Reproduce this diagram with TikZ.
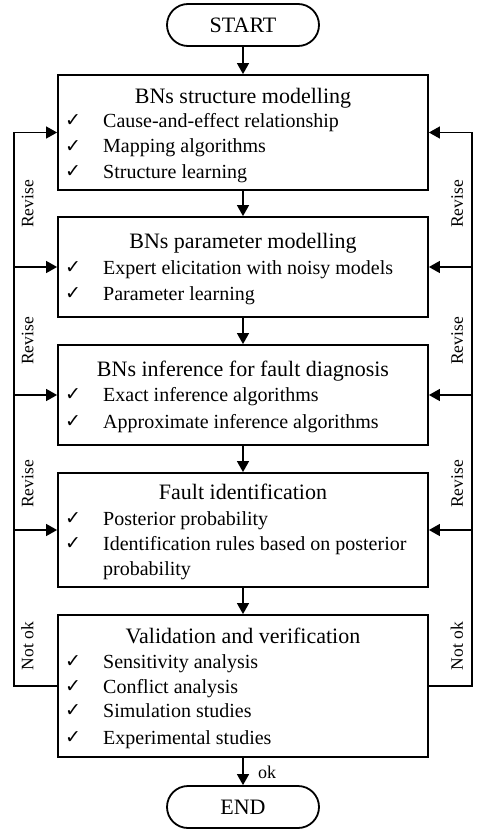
\documentclass[tikz,border=0pt]{standalone}
\usepackage{fontspec}
\setmainfont{Liberation Serif}
\newfontfamily\symfont{DejaVu Sans}
\usetikzlibrary{arrows.meta}

\tikzset{
  box/.style={draw, line width=1.8pt, minimum width=370pt, inner sep=0pt},
  term/.style={draw, line width=1.8pt, rounded corners=21pt, minimum width=152pt,
    minimum height=42pt, inner sep=0pt, font=\fontsize{22}{26}\selectfont},
  head/.style={inner sep=0pt, text height=14.5pt, text depth=0pt, font=\fontsize{22}{26}\selectfont},
  item/.style={anchor=west, inner sep=0pt, text height=13pt, text depth=0pt, font=\fontsize{20}{24}\selectfont},
  tick/.style={inner sep=0pt, font=\symfont\fontsize{19}{22}\selectfont},
  lab/.style={inner sep=0pt, rotate=90, text height=11.5pt, text depth=0pt, font=\fontsize{17.5}{21}\selectfont},
  arr/.style={line width=1.3pt, -{Triangle[length=11pt,width=12pt]}},
  ln/.style={line width=1.3pt}
}

\begin{document}
\begin{tikzpicture}[x=1pt, y=-1pt]
\def\Item#1#2#3{
\node[tick] (k#1) at (73,#2) {✓};
\node[item] (i#1) at (103,#2) {#3};
}
\useasboundingbox (0,0) rectangle (486,832);

% terminals
\node[term] (start) at (243,25) {START};
\node[term] (end) at (243,807) {END};

% stages
\node[box, minimum height=115pt] (s1) at (243,132.5) {};
\node[box, minimum height=100pt] (s2) at (243,267) {};
\node[box, minimum height=100pt] (s3) at (243,395) {};
\node[box, minimum height=114pt] (s4) at (243,530) {};
\node[box, minimum height=142pt] (s5) at (243,686) {};

\node[head] (h1) at (243,96) {BNs structure modelling};
\Item{11}{121}{Cause-and-effect relationship}
\Item{12}{146.5}{Mapping algorithms}
\Item{13}{172}{Structure learning}

\node[head] (h2) at (243,241.5) {BNs parameter modelling};
\Item{21}{268}{Expert elicitation with noisy models}
\Item{22}{293.5}{Parameter learning}

\node[head] (h3) at (243,369.5) {BNs inference for fault diagnosis};
\Item{31}{395}{Exact inference algorithms}
\Item{32}{421.5}{Approximate inference algorithms}

\node[head] (h4) at (243,492.5) {Fault identification};
\Item{41}{518.5}{Posterior probability}
\Item{42}{543.5}{Identification rules based on posterior}
\node[item] (i43) at (103,568.5) {probability};

\node[head] (h5) at (243,636.5) {Validation and verification};
\Item{51}{661.5}{Sensitivity analysis}
\Item{52}{686.5}{Conflict analysis}
\Item{53}{711}{Simulation studies}
\Item{54}{738}{Experimental studies}

% main flow
\draw[arr] (start.south) -- (s1.north);
\foreach \a/\b in {1/2,2/3,3/4,4/5}
  \draw[arr] (s\a.south) -- (s\b.north);
\draw[arr] (s5.south) -- (end.north);
\node[item, text height=12pt, font=\fontsize{18}{22}\selectfont] (ok) at (258,772) {ok};

% feedback loops
\coordinate (L) at (14,0);
\coordinate (R) at (472,0);
\draw[ln] (s5.west) -- (s5.west -| L) -- (s1.west -| L);
\draw[ln] (s5.east) -- (s5.east -| R) -- (s1.east -| R);
\foreach \n in {1,...,4}
{
  \draw[arr] (s\n.west -| L) -- (s\n.west);
  \draw[arr] (s\n.east -| R) -- (s\n.east);
}
\foreach \y/\t [count=\n] in {204/Revise, 341/Revise, 484/Revise, 646/Not ok}
{
  \node[lab] (lr\n) at (27.5,\y) {\t};
  \node[lab] (rr\n) at (457,\y) {\t};
}
\end{tikzpicture}
\end{document}
